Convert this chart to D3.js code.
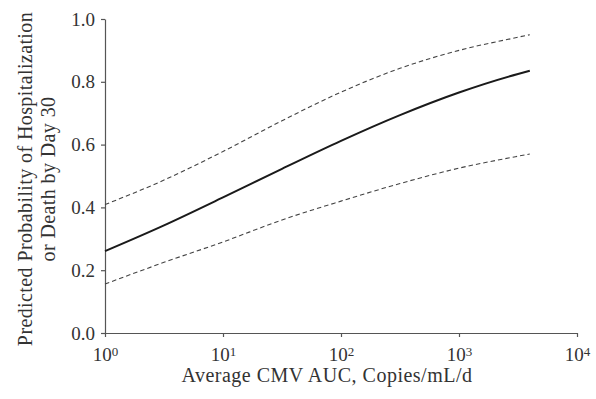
<!DOCTYPE html>
<html>
<head>
<meta charset="utf-8">
<script src="https://cdn.jsdelivr.net/npm/d3@7"></script>
<style>
  body { margin: 0; background: #fff; }
  text { font-family: "Liberation Serif", "DejaVu Serif", serif; fill: #333; }
</style>
</head>
<body>
<div id="chart"></div>
<script>
// log10 of average CMV AUC
var logAuc = [0, 0.5, 1, 1.5, 2, 2.5, 3, 3.5, 3.6];
var predicted = [0.261, 0.343, 0.432, 0.523, 0.612, 0.694, 0.766, 0.825, 0.835];
var upperCI = [0.409, 0.487, 0.578, 0.676, 0.767, 0.843, 0.900, 0.942, 0.950];
var lowerCI = [0.156, 0.225, 0.290, 0.360, 0.420, 0.476, 0.525, 0.563, 0.570];
var xTicks = [0, 1, 2, 3, 4];
var yTicks = [0, 0.2, 0.4, 0.6, 0.8, 1.0];

var margin = { top: 19, right: 19, bottom: 66, left: 105 },
  width = 596 - margin.left - margin.right,
  height = 399 - margin.top - margin.bottom;

var x = d3.scaleLog()
  .domain([1, 10000])
  .range([0, width]);

var y = d3.scaleLinear()
  .domain([0, 1])
  .range([height, 0]);

var svg = d3.select("#chart").append("svg")
  .attr("width", 596)
  .attr("height", 399)
  .append("g")
  .attr("transform", "translate(" + margin.left + "," + margin.top + ")");

var xAxis = d3.axisBottom(x)
  .tickValues(xTicks.map(function (p) { return Math.pow(10, p); }))
  .tickSize(4)
  .tickSizeOuter(0)
  .tickFormat(function () { return ""; });

var yAxis = d3.axisLeft(y)
  .tickValues(yTicks)
  .tickSize(4)
  .tickSizeOuter(0)
  .tickPadding(6)
  .tickFormat(d3.format(".1f"));

var gx = svg.append("g")
  .attr("class", "x axis")
  .attr("transform", "translate(0," + height + ")")
  .call(xAxis);

// 10 with superscript exponent
gx.selectAll(".tick text").each(function (d) {
  var t = d3.select(this);
  t.attr("y", 28).attr("dy", null).attr("font-size", 19);
  t.append("tspan").text("10");
  t.append("tspan").attr("font-size", 13).attr("dy", -5).text(Math.round(Math.log10(d)));
});

var gy = svg.append("g")
  .attr("class", "y axis")
  .call(yAxis);

gy.selectAll(".tick text").attr("font-size", 19);

svg.selectAll(".domain, .tick line")
  .attr("stroke", "#555")
  .attr("stroke-width", 1.2);

// axis titles
svg.append("text")
  .attr("x", 222)
  .attr("y", height + 49)
  .attr("text-anchor", "middle")
  .attr("font-size", 20)
  .attr("letter-spacing", 0.5)
  .text("Average CMV AUC, Copies/mL/d");

var yTitle = svg.append("text")
  .attr("transform", "translate(" + (-73) + "," + (height / 2 + 3) + ") rotate(-90)")
  .attr("text-anchor", "middle")
  .attr("font-size", 20)
  .attr("letter-spacing", 0.4);
yTitle.append("tspan").attr("x", 0).attr("y", 0).text("Predicted Probability of Hospitalization");
yTitle.append("tspan").attr("x", 0).attr("y", 23).text("or Death by Day 30");

var line = function (vals) {
  return d3.line()
    .x(function (d, i) { return x(Math.pow(10, logAuc[i])); })
    .y(function (d) { return y(d); })
    .curve(d3.curveMonotoneX)(vals);
};

svg.append("path")
  .attr("d", line(upperCI))
  .attr("fill", "none")
  .attr("stroke", "#444")
  .attr("stroke-width", 1.1)
  .attr("stroke-dasharray", "4.5,3");

svg.append("path")
  .attr("d", line(lowerCI))
  .attr("fill", "none")
  .attr("stroke", "#444")
  .attr("stroke-width", 1.1)
  .attr("stroke-dasharray", "4.5,3");

svg.append("path")
  .attr("d", line(predicted))
  .attr("fill", "none")
  .attr("stroke", "#1a1a1a")
  .attr("stroke-width", 2);
</script>
</body>
</html>
